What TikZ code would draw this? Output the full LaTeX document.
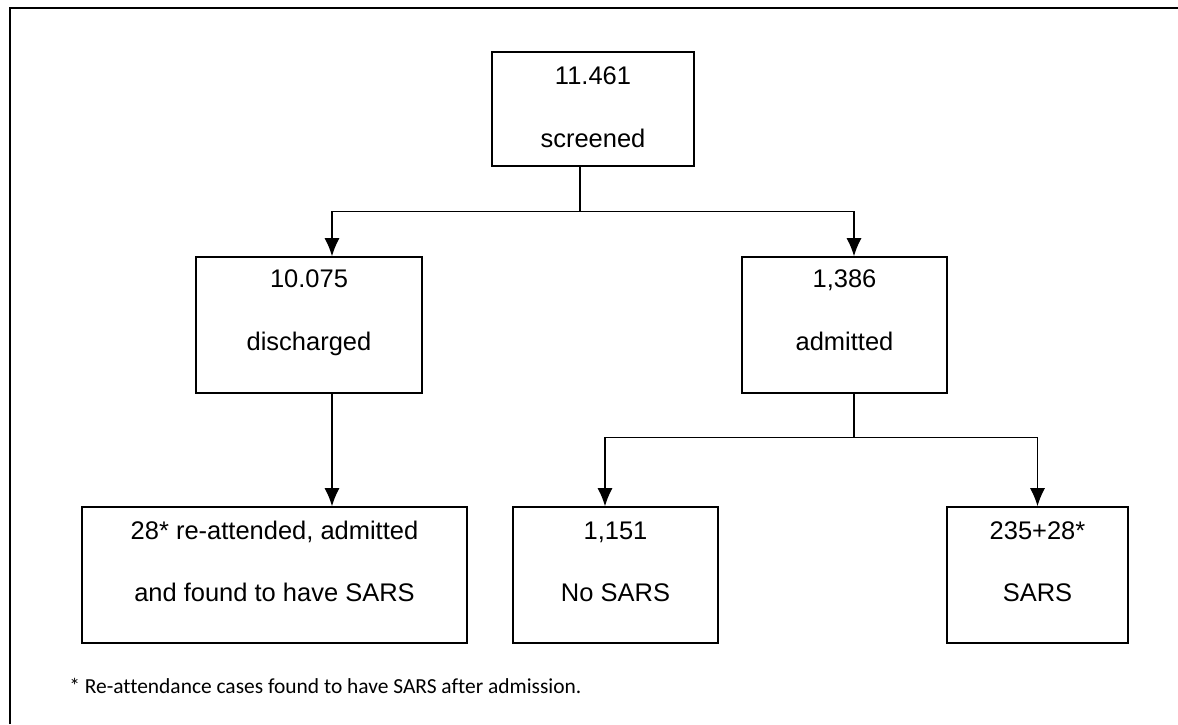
\documentclass[tikz,border=0pt]{standalone}
\usepackage{fontspec}
\setmainfont{Liberation Sans}
\newfontfamily\notefont[Ligatures=NoCommon]{Carlito}
\usetikzlibrary{arrows.meta,positioning}

\begin{document}
\begin{tikzpicture}[
		box/.style={draw, line width=0.9pt, minimum width=#1, minimum height=2.72cm, inner sep=0pt},
		lbl/.style={inner sep=0pt, text height=1.5ex, text depth=0.3ex, font=\fontsize{14.5}{17}\selectfont},
		arr/.style={line width=0.7pt, -{Latex[length=3.6mm,width=3.0mm]}},
		link/.style={line width=0.7pt}]
		
		\useasboundingbox (0,0) rectangle (23.56,-14.48);
		\draw[line width=1.2pt] (0.2,-14.48) -- (0.2,-0.16) -- (23.56,-0.16);
		
		% boxes
		\node[box=4.04cm, minimum height=2.28cm] (scr) at (11.86,-2.18) {};
		\node[box=4.52cm] (dis) at (6.18,-6.50) {};
		\node[box=4.10cm] (adm) at (16.89,-6.50) {};
		\node[box=7.70cm] (reatt) at (5.49,-11.50) {};
		\node[box=4.10cm] (nosars) at (12.31,-11.50) {};
		\node[box=3.62cm] (sars) at (20.75,-11.50) {};
		
		% texts
		\node[lbl] (scr-n) at ([yshift=-0.56cm]scr.north) {11.461};
		\node[lbl] (scr-t) at ([yshift=-1.82cm]scr.north) {screened};
		\node[lbl] (dis-n) at ([yshift=-0.52cm]dis.north) {10.075};
		\node[lbl] (dis-t) at ([yshift=-1.78cm]dis.north) {discharged};
		\node[lbl] (adm-n) at ([yshift=-0.52cm]adm.north) {1,386};
		\node[lbl] (adm-t) at ([yshift=-1.78cm]adm.north) {admitted};
		\node[lbl] (reatt-a) at ([yshift=-0.56cm]reatt.north) {28* re-attended, admitted};
		\node[lbl] (reatt-b) at ([yshift=-1.80cm]reatt.north) {and found to have SARS};
		\node[lbl] (nosars-n) at ([yshift=-0.56cm]nosars.north) {1,151};
		\node[lbl] (nosars-t) at ([yshift=-1.80cm]nosars.north) {No SARS};
		\node[lbl] (sars-n) at ([yshift=-0.56cm]sars.north) {235+28*};
		\node[lbl] (sars-t) at ([yshift=-1.80cm]sars.north) {SARS};
		
		% connectors
		\draw[link] ([xshift=-0.26cm]scr.south) -- ++(0,-0.90) coordinate (split1);
		\draw[arr] (split1) -| ([xshift=0.46cm]dis.north);
		\draw[arr] (split1) -| ([xshift=0.19cm]adm.north);
		\draw[arr] ([xshift=0.46cm]dis.south) -- ([xshift=0.46cm]dis.south |- reatt.north);
		\draw[link] ([xshift=0.19cm]adm.south) -- ++(0,-0.88) coordinate (split2);
		\draw[arr] (split2) -| ([xshift=-0.21cm]nosars.north);
		\draw[arr] (split2) -| (sars.north);
		
		\node[anchor=west, inner sep=0pt, font=\notefont\fontsize{12.2}{14}\selectfont] (note) at (1.38,-13.72) {* Re-attendance cases found to have SARS after admission.};
		
\end{tikzpicture}
\end{document}
